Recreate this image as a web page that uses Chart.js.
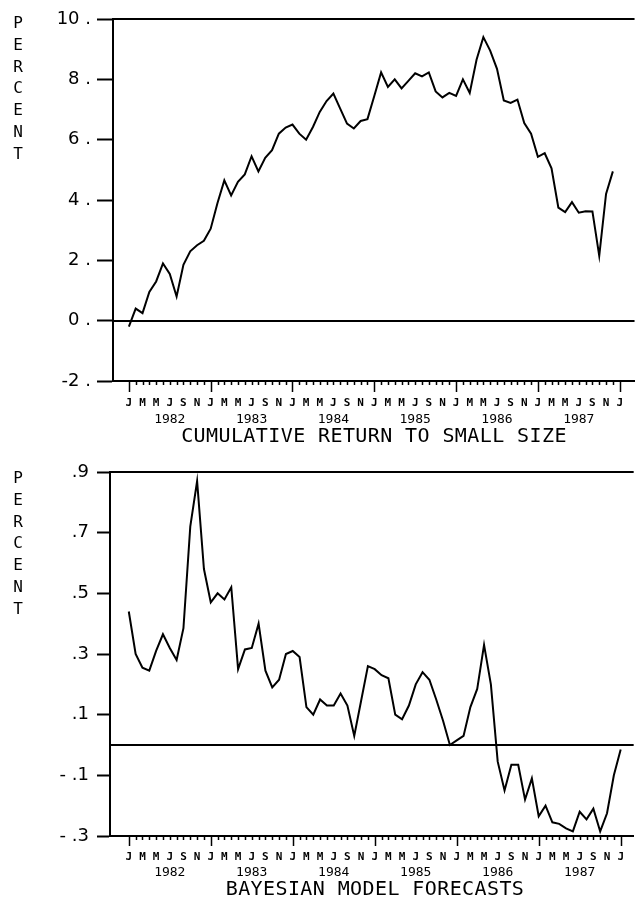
<!DOCTYPE html>
<html><head><meta charset="utf-8">
<script src="https://cdn.jsdelivr.net/npm/chart.js@4"></script>
<style>
html,body{margin:0;padding:0;background:#fff;}
body{width:639px;height:897px;position:relative;overflow:hidden;}
canvas{position:absolute;left:0;}
.ylab{position:absolute;left:8px;width:20px;font-family:"DejaVu Sans Mono",monospace;font-size:16px;line-height:21.8px;text-align:center;color:#000;}
.cap{position:absolute;font-family:"DejaVu Sans Mono",monospace;font-size:20px;line-height:20px;white-space:nowrap;color:#000;transform:translate(-50%,-50%);letter-spacing:0.4px;}
</style></head><body>
<canvas id="c1" width="639" height="430" style="top:0px"></canvas>
<canvas id="c2" width="639" height="430" style="top:450px"></canvas>
<div class="ylab" style="top:12px">P<br>E<br>R<br>C<br>E<br>N<br>T</div>
<div class="ylab" style="top:467px">P<br>E<br>R<br>C<br>E<br>N<br>T</div>
<div class="cap" style="left:374px;top:435px">CUMULATIVE RETURN TO SMALL SIZE</div>
<div class="cap" style="left:375px;top:888px">BAYESIAN MODEL FORECASTS</div>
<script>
// ---- categories ----
const years = ['1982','1983','1984','1985','1986','1987'];
const monthLetters = ['J','F','M','A','M','J','J','A','S','O','N','D'];
// month positions: Jan 1982 ... Jan 1988
const monthPositions = [];
years.forEach((y, k) => { for (let m = 0; m < 12; m++) monthPositions.push(k * 12 + m); });
monthPositions.push(years.length * 12);

// ---- series values ----
const cumulativeReturn = [
  -0.2, 0.4, 0.25, 0.95, 1.3, 1.9, 1.55, 0.8, 1.85, 2.3, 2.5, 2.65,
  3.05, 3.9, 4.65, 4.15, 4.6, 4.85, 5.45, 4.95, 5.4, 5.65, 6.2, 6.4,
  6.5, 6.2, 6.0, 6.42, 6.92, 7.28, 7.53, 7.03, 6.53, 6.37, 6.62, 6.68,
  7.45, 8.23, 7.75, 8.0, 7.7, 7.95, 8.2, 8.1, 8.23, 7.6, 7.4, 7.55,
  7.45, 8.0, 7.55, 8.65, 9.4, 8.95, 8.35, 7.3, 7.22, 7.33, 6.55, 6.2,
  5.43, 5.55, 5.05, 3.75, 3.6, 3.93, 3.58, 3.63, 3.62, 2.15, 4.2, 4.95
];
const bayesForecast = [
  0.44, 0.30, 0.255, 0.245, 0.31, 0.365, 0.32, 0.28, 0.385, 0.72, 0.87, 0.58,
  0.47, 0.50, 0.48, 0.52, 0.25, 0.315, 0.32, 0.40, 0.245, 0.19, 0.215, 0.30,
  0.31, 0.29, 0.125, 0.10, 0.15, 0.13, 0.13, 0.17, 0.13, 0.03, 0.145, 0.26,
  0.25, 0.23, 0.22, 0.10, 0.085, 0.13, 0.20, 0.24, 0.215, 0.15, 0.08, 0.0,
  0.015, 0.03, 0.125, 0.185, 0.33, 0.20, -0.055, -0.15, -0.065, -0.065, -0.18, -0.11,
  -0.235, -0.20, -0.255, -0.26, -0.275, -0.285, -0.22, -0.245, -0.21, -0.285, -0.225, -0.10,
  -0.015
];

// ---- tick labels ----
const topYTicks = [-2, 0, 2, 4, 6, 8, 10];
const topYLabels = ['-2 .', '0 .', '2 .', '4 .', '6 .', '8 .', '10 .'];
const botYTicks = [-0.3, -0.1, 0.1, 0.3, 0.5, 0.7, 0.9];
const botYLabels = ['- .3', '- .1', '.1', '.3', '.5', '.7', '.9'];
const yearTickPositions = years.map((y, k) => k * 12 + 6);

const framePlugin = {
  id: 'frame',
  afterDatasetsDraw(chart, args, opts) {
    const {ctx, chartArea, scales} = chart;
    const y = scales.y, x = scales.x;
    ctx.save();
    ctx.strokeStyle = '#000';
    ctx.lineWidth = 2;
    for (const v of opts.hLines) {
      const py = Math.round(y.getPixelForValue(v));
      ctx.beginPath(); ctx.moveTo(chartArea.left, py); ctx.lineTo(chartArea.right, py); ctx.stroke();
    }
    ctx.lineWidth = 1.5;
    for (const m of monthPositions) {
      const px = Math.round(x.getPixelForValue(m)) + 0.5;
      const len = m % 12 === 0 ? opts.major : opts.minor;
      ctx.beginPath(); ctx.moveTo(px, chartArea.bottom); ctx.lineTo(px, chartArea.bottom + len); ctx.stroke();
    }
    ctx.restore();
  }
};

function makeChart(id, values, cfg) {
  const FONT = '"DejaVu Sans Mono", monospace';
  return new Chart(document.getElementById(id), {
    type: 'line',
    data: { datasets: [{
      data: values.map((v, i) => ({x: i, y: v})),
      borderColor: '#000', borderWidth: 2, pointRadius: 0, tension: 0, fill: false
    }]},
    plugins: [framePlugin],
    options: {
      responsive: false, animation: false, events: [],
      layout: { padding: { top: cfg.padTop, left: 0, right: 0, bottom: 0 } },
      plugins: { legend: {display: false}, tooltip: {enabled: false},
        frame: { hLines: cfg.hLines, major: cfg.major, minor: 4 } },
      scales: {
        x: {
          type: 'linear', position: 'bottom', min: cfg.xmin, max: cfg.xmax,
          afterBuildTicks: s => { s.ticks = monthPositions.map(v => ({value: v})); },
          afterFit: s => { s.height = cfg.xH; },
          grid: {display: false, drawTicks: false},
          border: {display: true, color: '#000', width: 2},
          ticks: {
            autoSkip: false, maxRotation: 0, padding: cfg.monthPad, color: '#000',
            font: {family: FONT, size: 11, weight: 'bold', lineHeight: 1.2},
            callback: v => (v % 2 === 0 ? monthLetters[v % 12] : '')
          }
        },
        x2: {
          type: 'linear', position: 'bottom', min: cfg.xmin, max: cfg.xmax,
          afterBuildTicks: s => { s.ticks = yearTickPositions.map(v => ({value: v})); },
          afterFit: s => { s.height = cfg.x2H; },
          grid: {display: false, drawTicks: false},
          border: {display: false},
          ticks: {
            autoSkip: false, maxRotation: 0, padding: cfg.yearPad, color: '#000',
            font: {family: FONT, size: 13, lineHeight: 1.2},
            callback: v => years[yearTickPositions.indexOf(v)]
          }
        },
        y: {
          type: 'linear', position: 'left', min: cfg.ymin, max: cfg.ymax,
          afterBuildTicks: s => { s.ticks = cfg.yTicks.map(v => ({value: v})); },
          afterFit: s => { s.width = cfg.yW; },
          grid: {display: true, drawOnChartArea: false, drawTicks: true,
                 tickLength: cfg.tickLen, tickColor: '#000', tickWidth: 2, color: '#000'},
          border: {display: true, color: '#000', width: 2},
          ticks: {
            padding: cfg.yPad, color: '#000',
            font: {family: '"DejaVu Sans", sans-serif', size: 18},
            callback: v => {
              const k = cfg.yTicks.findIndex(t => Math.abs(t - v) < 1e-6);
              return k >= 0 ? cfg.yLabels[k] : '';
            }
          }
        }
      }
    }
  });
}

makeChart('c1', cumulativeReturn, {
  padTop: 19, xmin: -2.33, xmax: 74.18, ymin: -2, ymax: 10,
  yTicks: topYTicks, yLabels: topYLabels, yW: 113, tickLen: 16, yPad: 6,
  xH: 30, x2H: 430 - 381 - 30, monthPad: 16, yearPad: 1,
  hLines: [10, 0], major: 11
});
makeChart('c2', bayesForecast, {
  padTop: 22, xmin: -2.75, xmax: 73.9, ymin: -0.3, ymax: 0.9,
  yTicks: botYTicks, yLabels: botYLabels, yW: 110, tickLen: 13, yPad: 8,
  xH: 28, x2H: 430 - 386 - 28, monthPad: 15, yearPad: 1,
  hLines: [0.9, 0], major: 10
});
</script>
</body></html>
